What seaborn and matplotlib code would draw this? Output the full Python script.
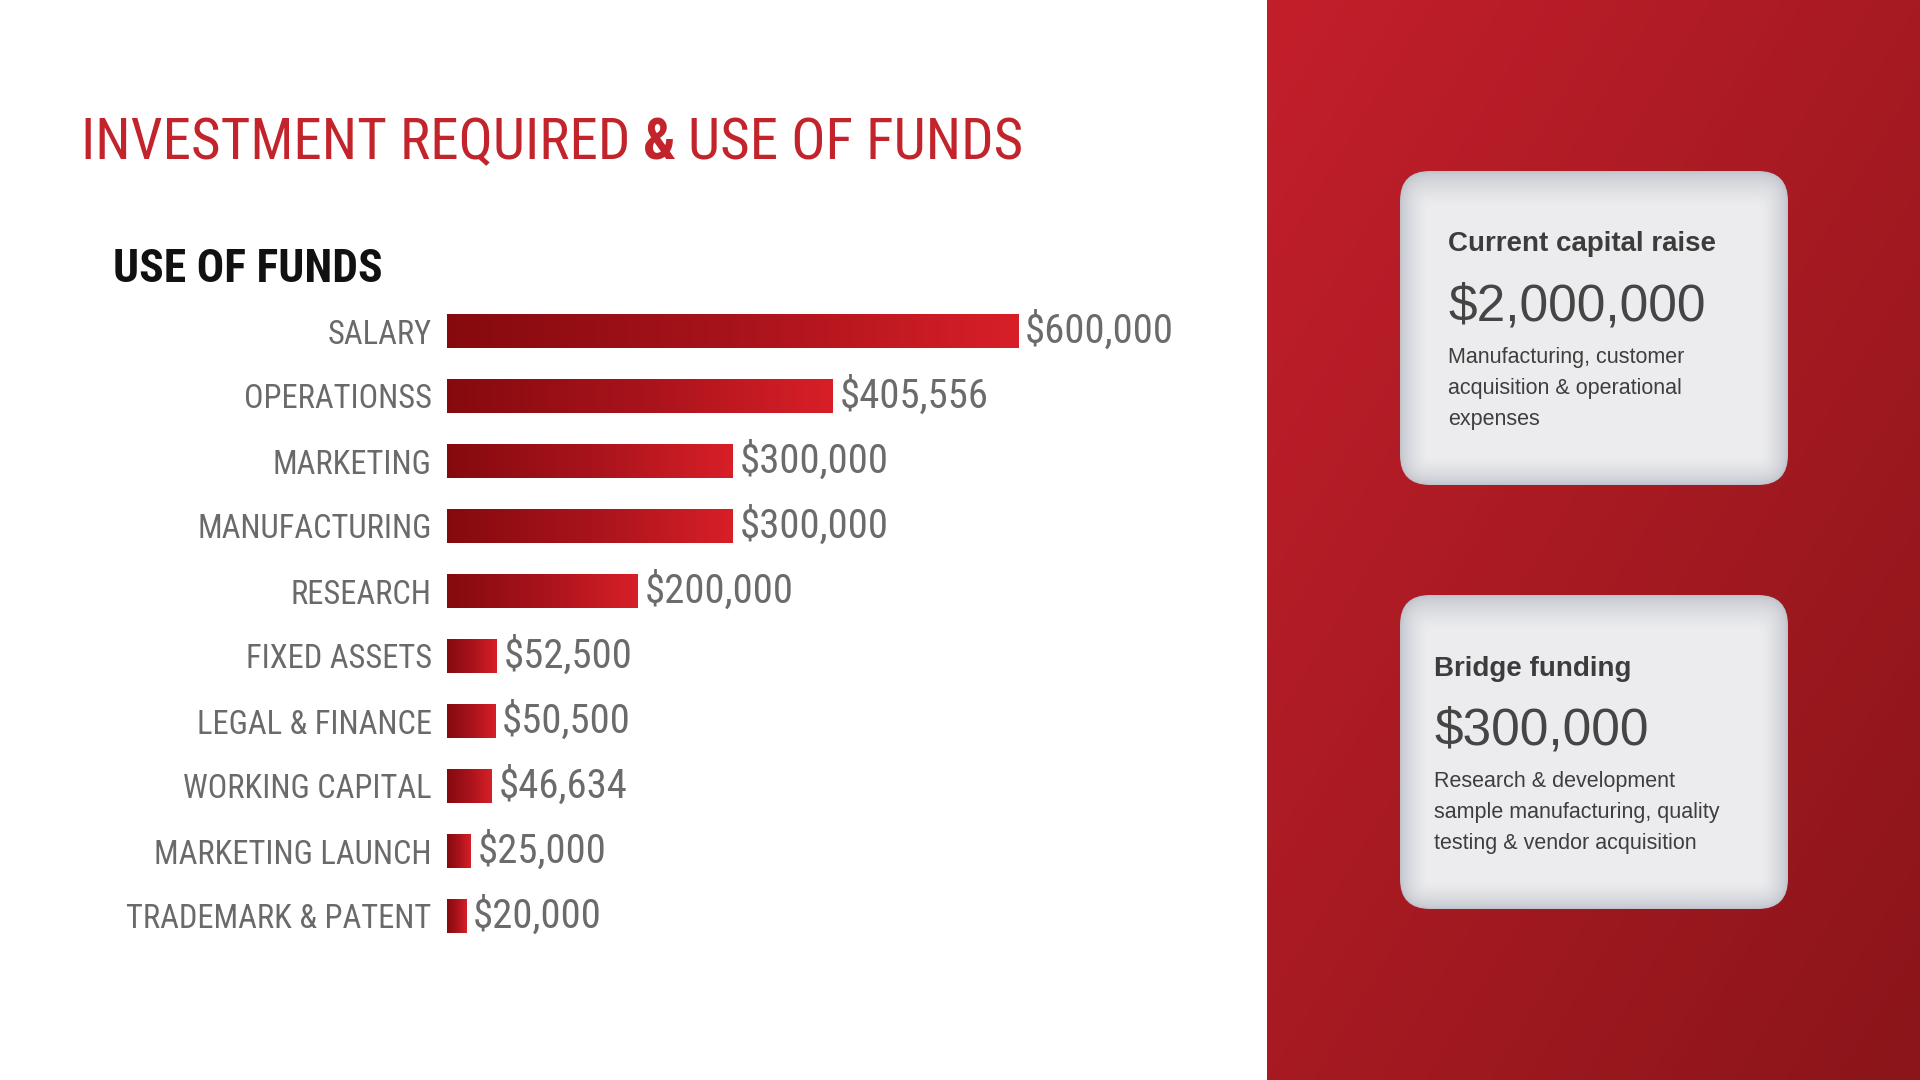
import numpy as np
import pandas as pd
import matplotlib
matplotlib.use('Agg')
import matplotlib.pyplot as plt
import seaborn as sns
from matplotlib import font_manager
from matplotlib.colors import LinearSegmentedColormap, to_rgb
from matplotlib.patches import FancyBboxPatch

# ==================== data ====================
categories = ['SALARY', 'OPERATIONSS', 'MARKETING', 'MANUFACTURING', 'RESEARCH',
              'FIXED ASSETS', 'LEGAL & FINANCE', 'WORKING CAPITAL',
              'MARKETING LAUNCH', 'TRADEMARK & PATENT']
amounts = [600000, 405556, 300000, 300000, 200000, 52500, 50500, 46634, 25000, 20000]

card_titles = ['Current capital raise', 'Bridge funding']
card_amounts = [2000000, 300000]
card_notes = [['Manufacturing, customer', 'acquisition & operational', 'expenses'],
              ['Research & development', 'sample manufacturing, quality',
               'testing & vendor acquisition']]

df = pd.DataFrame({'category': categories, 'amount': amounts})

# ==================== fonts ====================
# pick a condensed face if one is installed, else fall back to an Arial-like one
installed = {f.name for f in font_manager.fontManager.ttflist}
condensed = None
for name in ['Roboto Condensed', 'Liberation Sans Narrow', 'Open Sans Condensed',
             'Noto Sans Condensed', 'DejaVu Sans Condensed', 'Arial Narrow']:
    if name in installed:
        condensed = name
        break
stretch = 'normal'
if condensed is None:
    cands = [f.name for f in font_manager.fontManager.ttflist
             if f.stretch in ('condensed', 'semi-condensed', 'extra-condensed')
             and f.name in ('Noto Sans', 'DejaVu Sans', 'Roboto', 'Open Sans', 'Liberation Sans')]
    if cands:
        condensed = cands[0]
        stretch = 'condensed'
    else:
        condensed = 'Liberation Sans'

sns.set_theme(style='white')
narrow = [condensed, 'DejaVu Sans']
plain = ['Liberation Sans', 'DejaVu Sans']
plt.rcParams['font.family'] = narrow
plt.rcParams['font.stretch'] = stretch

W, H = 1920, 1080
fig = plt.figure(figsize=(19.2, 10.8), dpi=100)
fig.patch.set_facecolor('white')
renderer = fig.canvas.get_renderer()


def fit_size(text, target_w, base, max_size, weight='normal'):
    # font size that makes text about target_w pixels wide
    t = fig.text(0, 0, text, fontsize=base, fontweight=weight, family=narrow, stretch=stretch)
    w = t.get_window_extent(renderer).width
    t.remove()
    return min(base * target_w / w, max_size)


title_size = fit_size('INVESTMENT REQUIRED & USE OF FUNDS', 939, 40, 49)
sub_size = fit_size('USE OF FUNDS', 269, 30, 33, weight='bold')
label_size = fit_size('TRADEMARK & PATENT', 305, 22, 27)
value_size = fit_size('$405,556', 149, 28, 31)

# ==================== background layer (pixel coords, y down) ====================
bg = fig.add_axes([0, 0, 1, 1], zorder=0)
bg.axis('off')

# red side panel with diagonal gradient
px0 = 1267
yy, xx = np.mgrid[0:1:200j, 0:1:200j]
shade = 0.5 * xx + 0.5 * yy
panel_cmap = LinearSegmentedColormap.from_list('panel', ['#c31f2b', '#a71a22', '#8a151a'])
bg.imshow(shade, extent=[px0, W, H, 0], cmap=panel_cmap, aspect='auto',
          interpolation='bicubic', zorder=1)

# cards with soft inner shadow
card_boxes = [(1400, 171, 388, 314), (1400, 595, 388, 314)]
edge = np.array(to_rgb('#bfc3cb'))
face = np.array(to_rgb('#ececee'))
for cx, cy, cw, ch in card_boxes:
    n = 24
    for i in range(n):
        f = (i / (n - 1)) ** 0.6
        ins = i * 1.1
        r = max(30 - ins, 8)
        bg.add_patch(FancyBboxPatch((cx + ins, cy + ins * 1.3), cw - 2 * ins, ch - 2.3 * ins,
                                    boxstyle=f'round,pad=0,rounding_size={r}',
                                    fc=edge + (face - edge) * f, ec='none', zorder=2 + i * 0.01))

text_x = [1448, 1434]
title_y = [244, 669]
amount_y = [307, 731]
note_y = [358, 782]
for k in range(2):
    bg.text(text_x[k], title_y[k], card_titles[k], family=plain, fontsize=20,
            fontweight='bold', color='#3c3c3c', va='center', ha='left', zorder=5)
    bg.text(text_x[k], amount_y[k], f'${card_amounts[k]:,.0f}', family=plain, fontsize=37,
            color='#454545', va='center', ha='left', zorder=5)
    for j, line in enumerate(card_notes[k]):
        bg.text(text_x[k], note_y[k] + j * 30.5, line, family=plain, fontsize=15.5,
                color='#3e3e3e', va='center', ha='left', zorder=5)

bg.set_xlim(0, W)
bg.set_ylim(H, 0)

# ==================== titles ====================
title_red = '#c3242c'
gap = title_size * 0.3
t1 = bg.text(81, 159, 'INVESTMENT REQUIRED', fontsize=title_size, color=title_red,
             va='baseline', ha='left')
x_next = t1.get_window_extent(renderer).x1 + gap
t2 = bg.text(x_next, 159, '&', fontsize=title_size, fontweight='bold', color=title_red,
             va='baseline', ha='left')
x_next = t2.get_window_extent(renderer).x1 + gap
bg.text(x_next, 159, 'USE OF FUNDS', fontsize=title_size, color=title_red,
        va='baseline', ha='left')

bg.text(113, 282, 'USE OF FUNDS', fontsize=sub_size, fontweight='bold', color='#111111',
        va='baseline', ha='left')

# ==================== bar chart ====================
ax = fig.add_axes([447 / W, (H - 948.5) / H, 571 / W, 650 / H], zorder=3)
ax.patch.set_alpha(0)
sns.barplot(data=df, x='amount', y='category', orient='h', width=0.51,
            color='#c01a22', saturation=1, ax=ax)

bar_cmap = LinearSegmentedColormap.from_list('bar', ['#850a0e', '#a8131b', '#d81f28'])
grad = np.linspace(0, 1, 256).reshape(1, -1)
for p in ax.patches:
    x0, y0 = p.get_x(), p.get_y()
    w, h = p.get_width(), p.get_height()
    im = ax.imshow(grad, extent=[x0, x0 + w, y0 + h, y0], cmap=bar_cmap, aspect='auto',
                   zorder=p.get_zorder() + 0.1)
    im.set_clip_path(p)

for i, v in enumerate(amounts):
    ax.annotate(f'${v:,.0f}', xy=(v, i), xytext=(5, 0), textcoords='offset points',
                va='center', ha='left', fontsize=value_size, color='#6b6b6b',
                annotation_clip=False)

ax.set_xlim(0, 600000)
ax.set_ylim(9.5, -0.5)
ax.set_xlabel('')
ax.set_ylabel('')
ax.set_xticks([])
ax.tick_params(axis='y', length=0, pad=11, labelsize=label_size, labelcolor='#6a6a6a')
sns.despine(ax=ax, left=True, bottom=True)

fig.savefig('out.png', dpi=100)
